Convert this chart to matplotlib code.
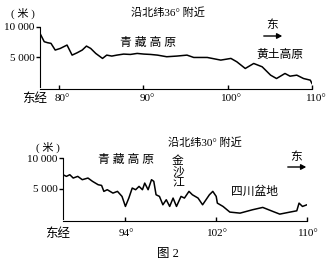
import matplotlib
matplotlib.use("Agg")
import matplotlib.pyplot as plt

# profile along 36N
lon36 = [77.8, 78.3, 78.7, 79.1, 79.6, 80.2, 81.0, 81.6, 82.2, 82.8, 83.3, 83.8, 84.4,
         85.2, 85.7, 86.3, 86.9, 87.7, 88.5, 89.3, 90.1, 90.9, 91.7, 92.8, 94.0, 95.2,
         96.0, 97.6, 99.2, 100.4, 101.1, 102.1, 103.1, 104.1, 105.1, 105.8, 106.8,
         107.4, 108.2, 109.0, 109.8, 110.0]
elev36 = [8940, 7560, 7390, 7280, 6170, 6440, 7000, 5330, 5720, 6170, 6830, 6440, 5610,
          4780, 5330, 5170, 5330, 5500, 5440, 5610, 5500, 5440, 5330, 5060, 5170, 5330,
          4940, 4940, 4500, 4780, 4220, 3110, 3940, 3390, 2000, 1440, 2280,
          1830, 2000, 1440, 1170, 610]

# profile along 30N
lon30 = [88.5, 88.8, 89.1, 89.4, 89.8, 90.2, 90.7, 91.1, 91.6, 91.9, 92.1, 92.4, 92.9,
         93.3, 93.7, 94.0, 94.3, 94.6, 94.9, 95.2, 95.5, 95.7, 96.0, 96.3, 96.5, 96.7,
         97.0, 97.3, 97.6, 97.9, 98.2, 98.5, 98.9, 99.2, 99.6, 99.9, 100.4, 100.8,
         101.4, 101.7, 102.0, 102.1, 102.6, 103.2, 104.1, 105.2, 106.1, 107.0, 107.6,
         108.5, 109.1, 109.3, 109.6, 110.0]
elev30 = [7280, 7010, 7280, 6740, 7010, 6470, 6740, 6200, 5650, 5540, 4570, 4840, 4290,
          4570, 3750, 2120, 3480, 5110, 4840, 5380, 4840, 5920, 4840, 6470, 6200, 4020,
          3750, 2390, 3210, 2120, 3480, 2120, 3750, 3480, 4570, 4020, 3480, 2390,
          4020, 4570, 3750, 2660, 2120, 1200, 1030, 1580, 1960, 1300, 870,
          1200, 1410, 2660, 2120, 2390]

ticks36 = [80, 90, 100, 110]
ticks30 = [94, 102, 110]
yticks = [5000, 10000]
ylabels = ["5 000", "10 000"]

W, H = 336, 265
fam = ["Liberation Serif", "Noto Sans CJK SC"]
plt.rcParams["font.family"] = fam

fig = plt.figure(figsize=(W / 100, H / 100), dpi=100)


def px(x, y):
    return x / W, 1 - y / H


def txt(x, y, s, size=8.5, ha="center"):
    fig.text(*px(x, y), s, fontsize=size, ha=ha, va="center", color="black")


def arrow(x0, x1, y):
    fig.add_artist(matplotlib.patches.FancyArrowPatch(
        px(x0, y), px(x1, y), transform=fig.transFigure,
        arrowstyle="-|>,head_length=3,head_width=1.6", lw=1.0, color="black"))


def style(ax, xlim, ylim, xticks):
    ax.set_xlim(*xlim)
    ax.set_ylim(*ylim)
    for s in ["top", "right"]:
        ax.spines[s].set_visible(False)
    ax.spines["left"].set_bounds(0, 10000)
    ax.set_xticks(xticks)
    ax.set_xticklabels([])
    ax.set_yticks(yticks)
    ax.set_yticklabels(ylabels, fontsize=8)
    ax.tick_params(direction="in", length=3, width=1.0, pad=1)
    ax.tick_params(axis="y", direction="out", length=3)


ax1 = fig.add_axes([40 / W, 1 - 89 / H, (312 - 40) / W, (89 - 27) / H])
ax1.plot(lon36, elev36, color="black", lw=1.1)
style(ax1, (77.8, 110), (-300, 10000), ticks36)

ax2 = fig.add_axes([63 / W, 1 - 221 / H, (307 - 63) / W, (221 - 158) / H])
ax2.plot(lon30, elev30, color="black", lw=1.1)
style(ax2, (88.5, 110), (-250, 10000), ticks30)

# top panel texts
txt(23, 13, "( 米 )", 8)
txt(168, 13, "沿北纬36° 附近", 8)
txt(272, 25, "东", 8.5)
arrow(261, 285, 36)
txt(148, 43, "青 藏 高 原", 8.5)
txt(280, 55, "黄土高原", 8.5)
txt(35, 99, "东经", 9)
for t in ticks36:
    x = 40 + (t - 77.8) / (110 - 77.8) * (312 - 40)
    txt(x + 4, 99, f"{t}°", 8)

# bottom panel texts
txt(48, 147, "( 米 )", 8)
txt(205, 143, "沿北纬30° 附近", 8)
txt(126, 160, "青 藏 高 原", 8.5)
for i, ch in enumerate("金沙江"):
    txt(178, 161 + i * 11, ch, 8.5)
txt(296, 157, "东", 8.5)
arrow(285, 309, 167)
txt(255, 192, "四川盆地", 8.5)
txt(58, 234, "东经", 9)
for t in ticks30:
    x = 63 + (t - 88.5) / (110 - 88.5) * (307 - 63)
    txt(x + 1, 234, f"{t}°", 8)

txt(168, 254, "图 2", 9)

fig.savefig("out.png", dpi=100, facecolor="white")
